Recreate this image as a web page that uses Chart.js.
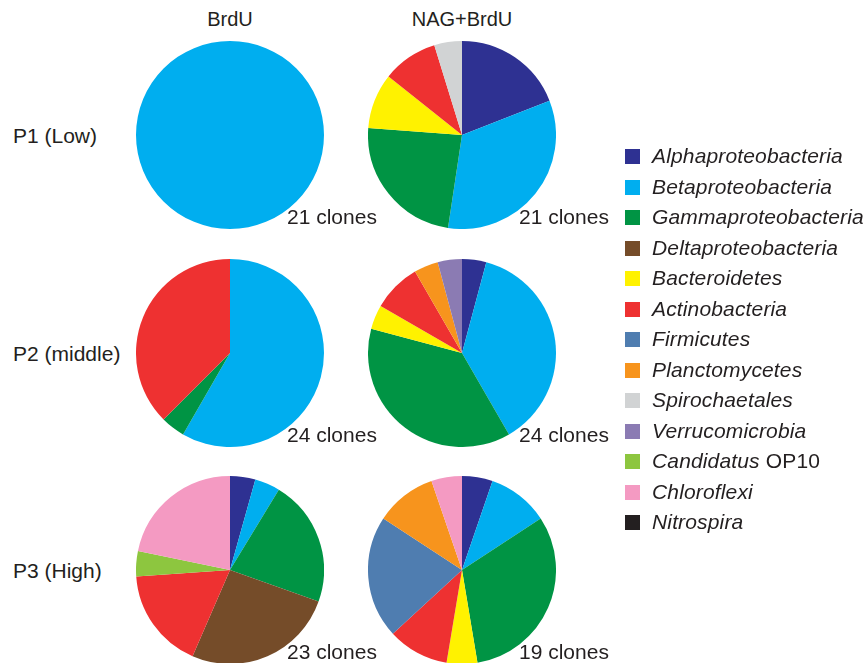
<!DOCTYPE html>
<html>
<head>
<meta charset="utf-8">
<script src="https://cdn.jsdelivr.net/npm/chart.js@4.4.0/dist/chart.umd.min.js"></script>
<style>
  html, body { margin: 0; padding: 0; background: #fff; }
  body { width: 866px; height: 663px; position: relative; overflow: hidden;
         font-family: "Liberation Sans", Arial, sans-serif; color: #231f20; }
  .pie { position: absolute; }
  .txt { position: absolute; font-size: 21px; white-space: nowrap; line-height: 1; }
  .legend { position: absolute; left: 625px; top: 149px; }
  .legend .row { position: absolute; left: 0; height: 16px; white-space: nowrap; }
  .legend .sw { position: absolute; left: 0; top: 0; width: 15px; height: 15px; }
  .legend .lb { position: absolute; left: 27px; top: -4px; font-size: 21px; font-style: italic;
                line-height: 1; letter-spacing: 0.15px; }
  .legend .lb span { font-style: normal; }
</style>
</head>
<body>

<script>
// taxa, in legend / slice order
const taxa = [
  'Alphaproteobacteria', 'Betaproteobacteria', 'Gammaproteobacteria', 'Deltaproteobacteria',
  'Bacteroidetes', 'Actinobacteria', 'Firmicutes', 'Planctomycetes', 'Spirochaetales',
  'Verrucomicrobia', 'Candidatus OP10', 'Chloroflexi', 'Nitrospira'
];
const taxaColors = [
  '#2e3192', '#00aeef', '#009444', '#754c29',
  '#fff200', '#ee3131', '#4f7db0', '#f7941d', '#d1d3d4',
  '#8b7bb3', '#8dc63f', '#f49ac2', '#231f20'
];

// clone counts per taxon (same order as taxa)
const p1BrdU    = [0, 21, 0, 0, 0, 0, 0, 0, 0, 0, 0, 0, 0];
const p1NagBrdU = [4, 7, 5, 0, 2, 2, 0, 0, 1, 0, 0, 0, 0];
const p2BrdU    = [0, 14, 1, 0, 0, 9, 0, 0, 0, 0, 0, 0, 0];
const p2NagBrdU = [1, 9, 9, 0, 1, 2, 0, 1, 0, 1, 0, 0, 0];
const p3BrdU    = [1, 1, 5, 6, 0, 4, 0, 0, 0, 0, 1, 5, 0];
const p3NagBrdU = [1, 2, 6, 0, 1, 2, 4, 2, 0, 0, 0, 1, 0];

const columnTitles = ['BrdU', 'NAG+BrdU'];
const rowTitles = ['P1 (Low)', 'P2 (middle)', 'P3 (High)'];

const colX = [230, 462];
const rowY = [135, 353, 570];
const R = 94;

const pies = [
  [p1BrdU, p1NagBrdU],
  [p2BrdU, p2NagBrdU],
  [p3BrdU, p3NagBrdU]
];

function addText(str, left, top, extra) {
  const d = document.createElement('div');
  d.className = 'txt';
  d.textContent = str;
  d.style.left = left + 'px';
  d.style.top = top + 'px';
  if (extra) Object.assign(d.style, extra);
  document.body.appendChild(d);
  return d;
}

// column / row headings
columnTitles.forEach((t, i) => {
  addText(t, colX[i] - 100, 9, { width: '200px', textAlign: 'center', fontSize: '20px' });
});
rowTitles.forEach((t, i) => {
  addText(t, 13, rowY[i] - 10);
});

// pies
pies.forEach((row, r) => {
  row.forEach((counts, c) => {
    const canvas = document.createElement('canvas');
    canvas.className = 'pie';
    canvas.width = R * 2;
    canvas.height = R * 2;
    canvas.style.left = (colX[c] - R) + 'px';
    canvas.style.top = (rowY[r] - R) + 'px';
    document.body.appendChild(canvas);

    const labels = [], data = [], colors = [];
    counts.forEach((v, i) => {
      if (v > 0) {
        labels.push(taxa[i]);
        data.push(v);
        colors.push(taxaColors[i]);
      }
    });

    new Chart(canvas.getContext('2d'), {
      type: 'pie',
      data: {
        labels: labels,
        datasets: [{
          data: data,
          backgroundColor: colors,
          borderWidth: 0
        }]
      },
      options: {
        responsive: false,
        animation: false,
        layout: { padding: 0 },
        plugins: {
          legend: { display: false },
          tooltip: { enabled: false }
        }
      }
    });

    const total = counts.reduce((a, b) => a + b, 0);
    addText(total + ' clones', colX[c] + 57, rowY[r] + 71);
  });
});

// legend
const legend = document.createElement('div');
legend.className = 'legend';
document.body.appendChild(legend);
taxa.forEach((t, i) => {
  const row = document.createElement('div');
  row.className = 'row';
  row.style.top = (i * 30.5) + 'px';
  const sw = document.createElement('div');
  sw.className = 'sw';
  sw.style.background = taxaColors[i];
  const lb = document.createElement('div');
  lb.className = 'lb';
  if (t.startsWith('Candidatus')) {
    lb.innerHTML = 'Candidatus <span>OP10</span>';
  } else {
    lb.textContent = t;
  }
  row.appendChild(sw);
  row.appendChild(lb);
  legend.appendChild(row);
});
</script>
</body>
</html>
